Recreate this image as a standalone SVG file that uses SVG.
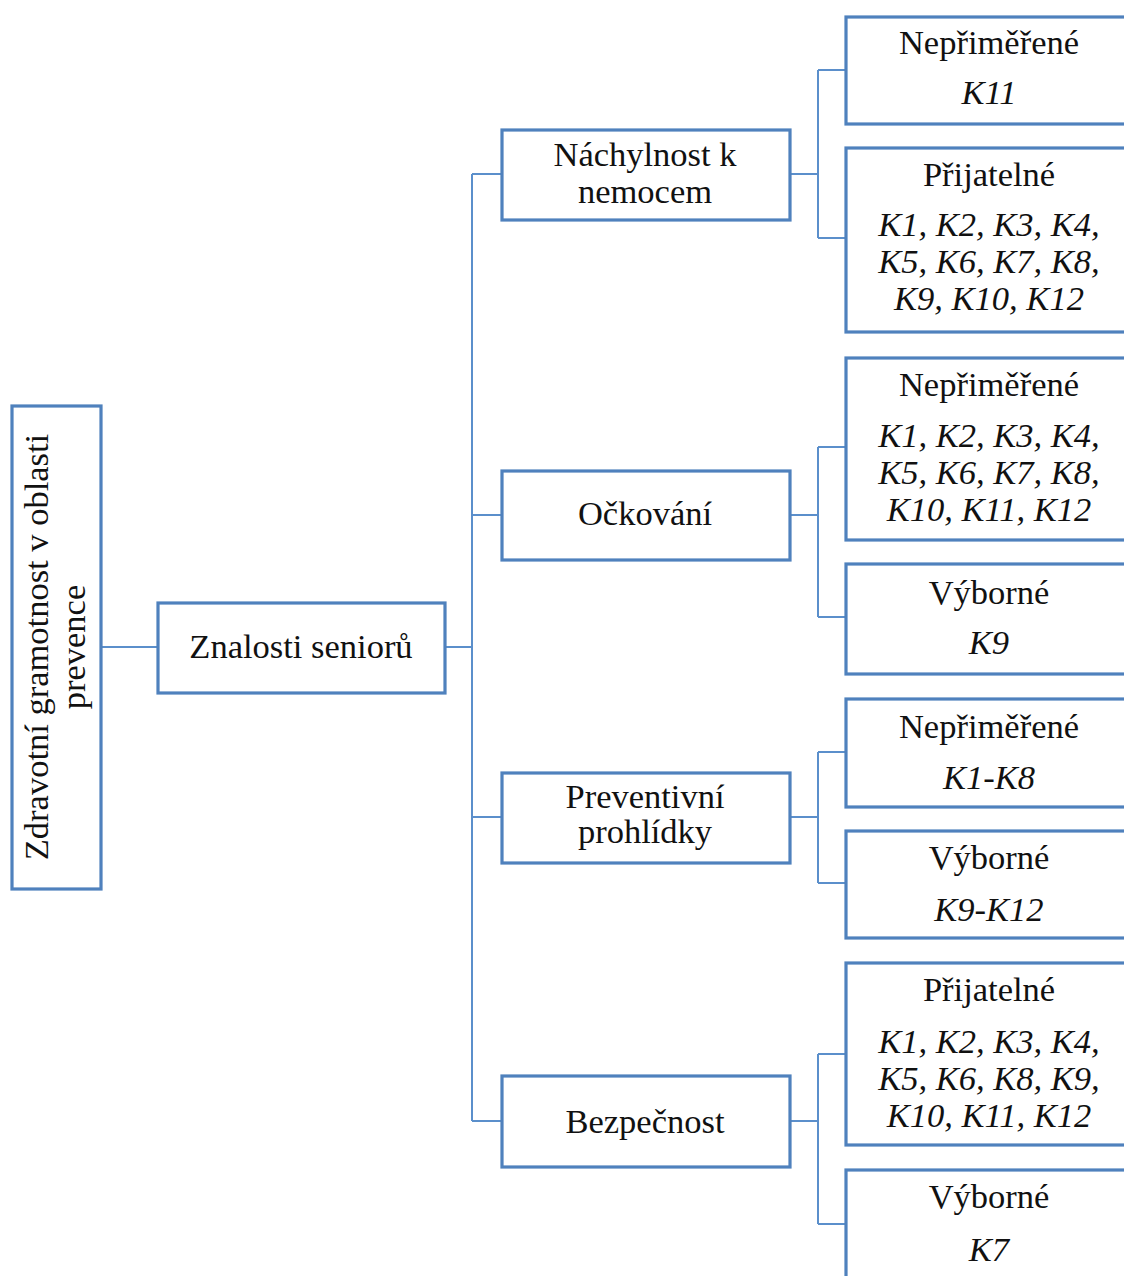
<svg xmlns="http://www.w3.org/2000/svg" width="1124" height="1276" viewBox="0 0 1124 1276">
  <style>
    .box { fill: #ffffff; stroke: #4f81bd; stroke-width: 3.2; }
    .link { fill: none; stroke: #5b8fcb; stroke-width: 2; }
    .t { font-family: "Liberation Serif", "Times New Roman", serif; font-size: 34.5px; fill: #111111; text-anchor: middle; }
    .i { font-style: italic; }
  </style>
  <rect width="1124" height="1276" fill="#ffffff"/>

  <!-- connectors -->
  <g id="connectors">
    <path class="link" d="M101,647 H158"/>
    <path class="link" d="M445,647 H472"/>
    <path class="link" d="M472,174 V1121"/>
    <path class="link" d="M472,174 H501 M472,515 H501 M472,817 H501 M472,1121 H501"/>
    <!-- Náchylnost k nemocem -->
    <path class="link" d="M790,174 H818 M818,70 V238 M818,70 H845 M818,238 H845"/>
    <!-- Očkování -->
    <path class="link" d="M790,515 H818 M818,447 V617 M818,447 H845 M818,617 H845"/>
    <!-- Preventivní prohlídky -->
    <path class="link" d="M790,817 H818 M818,752 V883 M818,752 H845 M818,883 H845"/>
    <!-- Bezpečnost -->
    <path class="link" d="M790,1121 H818 M818,1054 V1224 M818,1054 H845 M818,1224 H845"/>
  </g>

  <!-- root -->
  <g id="root">
    <rect class="box" x="12" y="406" width="89" height="483"/>
    <text class="t" transform="translate(48,647) rotate(-90)">Zdravotní gramotnost v oblasti</text>
    <text class="t" transform="translate(85,647) rotate(-90)">prevence</text>
  </g>

  <g id="znalosti">
    <rect class="box" x="158" y="603" width="287" height="90"/>
    <text class="t" x="301" y="658">Znalosti seniorů</text>
  </g>

  <!-- second level -->
  <g id="nachylnost">
    <rect class="box" x="502" y="130" width="288" height="90"/>
    <text class="t" x="645" y="166">Náchylnost k</text>
    <text class="t" x="645" y="203">nemocem</text>
  </g>
  <g id="ockovani">
    <rect class="box" x="502" y="471" width="288" height="89"/>
    <text class="t" x="645" y="525">Očkování</text>
  </g>
  <g id="preventivni">
    <rect class="box" x="502" y="773" width="288" height="90"/>
    <text class="t" x="645" y="808">Preventivní</text>
    <text class="t" x="645" y="843">prohlídky</text>
  </g>
  <g id="bezpecnost">
    <rect class="box" x="502" y="1076" width="288" height="91"/>
    <text class="t" x="645" y="1133">Bezpečnost</text>
  </g>

  <!-- third level -->
  <g id="nachylnost-neprimerene">
    <rect class="box" x="846" y="17" width="290" height="107"/>
    <text class="t" x="989" y="54">Nepřiměřené</text>
    <text class="t i" x="989" y="104">K11</text>
  </g>
  <g id="nachylnost-prijatelne">
    <rect class="box" x="846" y="148" width="290" height="184"/>
    <text class="t" x="989" y="186">Přijatelné</text>
    <text class="t i" x="989" y="236">K1, K2, K3, K4,</text>
    <text class="t i" x="989" y="273">K5, K6, K7, K8,</text>
    <text class="t i" x="989" y="310">K9, K10, K12</text>
  </g>
  <g id="ockovani-neprimerene">
    <rect class="box" x="846" y="358" width="290" height="182"/>
    <text class="t" x="989" y="396">Nepřiměřené</text>
    <text class="t i" x="989" y="447">K1, K2, K3, K4,</text>
    <text class="t i" x="989" y="484">K5, K6, K7, K8,</text>
    <text class="t i" x="989" y="521">K10, K11, K12</text>
  </g>
  <g id="ockovani-vyborne">
    <rect class="box" x="846" y="564" width="290" height="110"/>
    <text class="t" x="989" y="604">Výborné</text>
    <text class="t i" x="989" y="654">K9</text>
  </g>
  <g id="preventivni-neprimerene">
    <rect class="box" x="846" y="699" width="290" height="108"/>
    <text class="t" x="989" y="738">Nepřiměřené</text>
    <text class="t i" x="989" y="789">K1-K8</text>
  </g>
  <g id="preventivni-vyborne">
    <rect class="box" x="846" y="831" width="290" height="107"/>
    <text class="t" x="989" y="869">Výborné</text>
    <text class="t i" x="989" y="921">K9-K12</text>
  </g>
  <g id="bezpecnost-prijatelne">
    <rect class="box" x="846" y="963" width="290" height="182"/>
    <text class="t" x="989" y="1001">Přijatelné</text>
    <text class="t i" x="989" y="1053">K1, K2, K3, K4,</text>
    <text class="t i" x="989" y="1090">K5, K6, K8, K9,</text>
    <text class="t i" x="989" y="1127">K10, K11, K12</text>
  </g>
  <g id="bezpecnost-vyborne">
    <rect class="box" x="846" y="1170" width="290" height="120"/>
    <text class="t" x="989" y="1208">Výborné</text>
    <text class="t i" x="989" y="1261">K7</text>
  </g>
</svg>
